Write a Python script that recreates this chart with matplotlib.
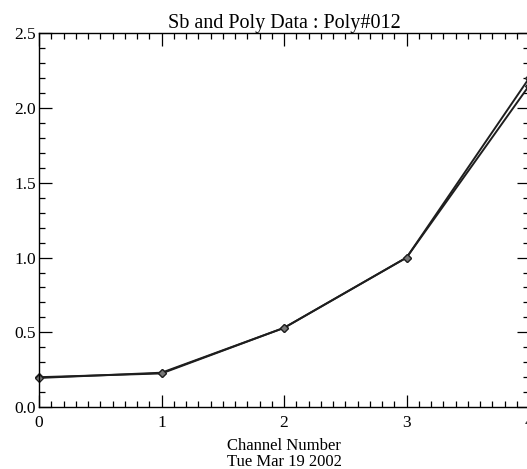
import matplotlib.pyplot as plt
from matplotlib.ticker import MultipleLocator

plt.rcParams['font.family'] = ['Liberation Serif', 'DejaVu Serif']

channels = [0, 1, 2, 3, 4]
sb_values = [0.20, 0.225, 0.53, 1.00, 2.20]
poly_values = [0.195, 0.23, 0.53, 1.00, 2.15]

fig = plt.figure(figsize=(5.27, 4.69), dpi=100)
# the right edge of the plot box runs just past the picture, as in the scan
ax = fig.add_axes([0.074, 0.132, 0.930, 0.797])

for vals in (sb_values, poly_values):
    ax.plot(channels, vals, color='#1e1e1e', lw=1.4, marker='D', ms=4,
            mfc='#777777', mec='#1e1e1e', mew=0.9, clip_on=False)

ax.set_xlim(0, 4)
ax.set_ylim(0, 2.5)
ax.xaxis.set_major_locator(MultipleLocator(1))
ax.xaxis.set_minor_locator(MultipleLocator(0.1))
ax.yaxis.set_major_locator(MultipleLocator(0.5))
ax.yaxis.set_minor_locator(MultipleLocator(0.1))
ax.yaxis.set_major_formatter(plt.FormatStrFormatter('%.1f'))

ax.tick_params(which='both', direction='in', top=True, right=True,
               labelsize=12.5, width=0.9)
ax.tick_params(which='major', length=9)
ax.tick_params(which='minor', length=4)
ax.tick_params(axis='x', pad=6)
ax.tick_params(axis='y', pad=2)
for s in ax.spines.values():
    s.set_linewidth(1.0)

ax.set_title('Sb and Poly Data : Poly#012', fontsize=14.5, pad=2)
ax.set_xlabel('Channel Number\nTue Mar 19 2002', fontsize=12, linespacing=0.95,
              labelpad=5)

fig.savefig('out.png', dpi=100)
